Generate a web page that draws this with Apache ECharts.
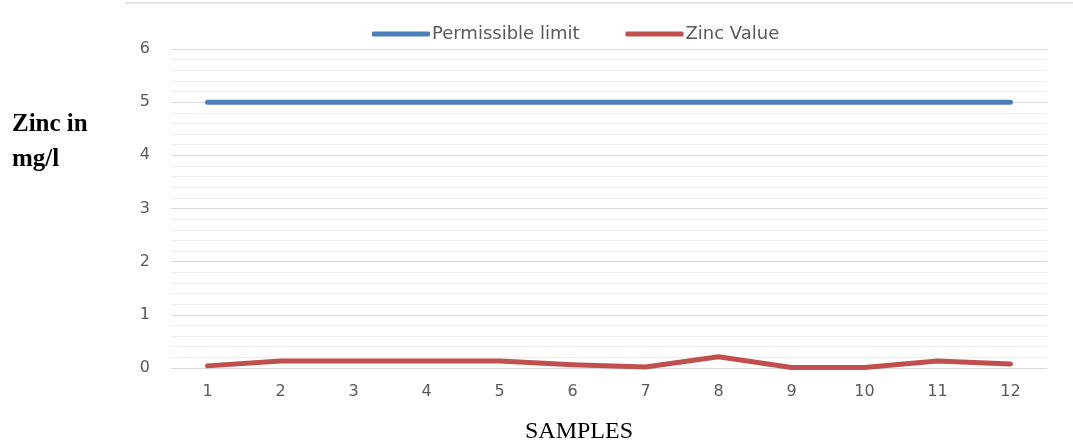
<!DOCTYPE html>
<html>
<head>
<meta charset="utf-8">
<script src="https://cdn.jsdelivr.net/npm/echarts@6/dist/echarts.min.js"></script>
<style>html,body{margin:0;padding:0;background:#fff;overflow:hidden;}#c{width:1073px;height:443px;}</style>
</head>
<body>
<div id="c"></div>
<script>
const categories = ['1','2','3','4','5','6','7','8','9','10','11','12'];
const permissibleLimit = [5,5,5,5,5,5,5,5,5,5,5,5];
const zincValue = [0.04,0.13,0.13,0.13,0.13,0.06,0.02,0.21,0.01,0.01,0.13,0.075];
const yTicks = [0,1,2,3,4,5,6];

const chart = echarts.init(document.getElementById('c'), null, {renderer:'canvas', width: 1073, height: 443});
const labelFont = '"DejaVu Sans", sans-serif';
const serif = '"Liberation Serif", "Times New Roman", serif';
chart.setOption({
  animation: false,
  backgroundColor: '#fff',
  legend: {
    top: 20, left: 367,
    itemWidth: 58, itemHeight: 5, itemGap: 46,
    icon: 'roundRect',
    textStyle: {fontFamily: labelFont, fontSize: 18, color: '#595959', padding: [0,0,0,-3]},
    data: ['Permissible limit','Zinc Value']
  },
  grid: {left: 171, right: 26, top: 49, height: 319, outerBoundsMode: 'none', containLabel: false},
  xAxis: {
    type: 'category', data: categories, boundaryGap: true,
    axisLine: {show: true, lineStyle: {color: '#d9d9d9', width: 1}},
    axisTick: {show: false},
    axisLabel: {fontFamily: labelFont, fontSize: 16, color: '#595959', margin: 16},
    name: 'SAMPLES', nameLocation: 'middle', nameGap: 52,
    nameTextStyle: {fontFamily: serif, fontSize: 24, color: '#000', padding: [0, 60, 0, 0]}
  },
  yAxis: {
    type: 'value', min: yTicks[0], max: yTicks[yTicks.length-1], interval: 1,
    axisLine: {show: false}, axisTick: {show: false},
    axisLabel: {fontFamily: labelFont, fontSize: 16, color: '#595959', margin: 21},
    splitLine: {show: true, lineStyle: {color: '#d9d9d9', width: 1}},
    minorTick: {show: false, splitNumber: 5},
    minorSplitLine: {show: true, lineStyle: {color: '#efefef', width: 1}}
  },
  graphic: [
    {type: 'line', shape: {x1: 125, y1: 3, x2: 1073, y2: 3}, style: {stroke: '#e3e3e3', lineWidth: 2}},
    {type: 'text', left: 12, top: 112, style: {text: 'Zinc in', font: 'bold 25px ' + serif, fill: '#000'}},
    {type: 'text', left: 12, top: 147, style: {text: 'mg/l', font: 'bold 25px ' + serif, fill: '#000'}}
  ],
  series: [
    {name: 'Permissible limit', type: 'line', data: permissibleLimit, symbol: 'none',
     lineStyle: {color: '#4a7ebb', width: 5, cap: 'round'}, itemStyle: {color: '#4a7ebb'}},
    {name: 'Zinc Value', type: 'line', data: zincValue, symbol: 'none',
     lineStyle: {color: '#c0504d', width: 5, cap: 'round', join: 'round'}, itemStyle: {color: '#c0504d'}}
  ]
});
</script>
</body>
</html>
